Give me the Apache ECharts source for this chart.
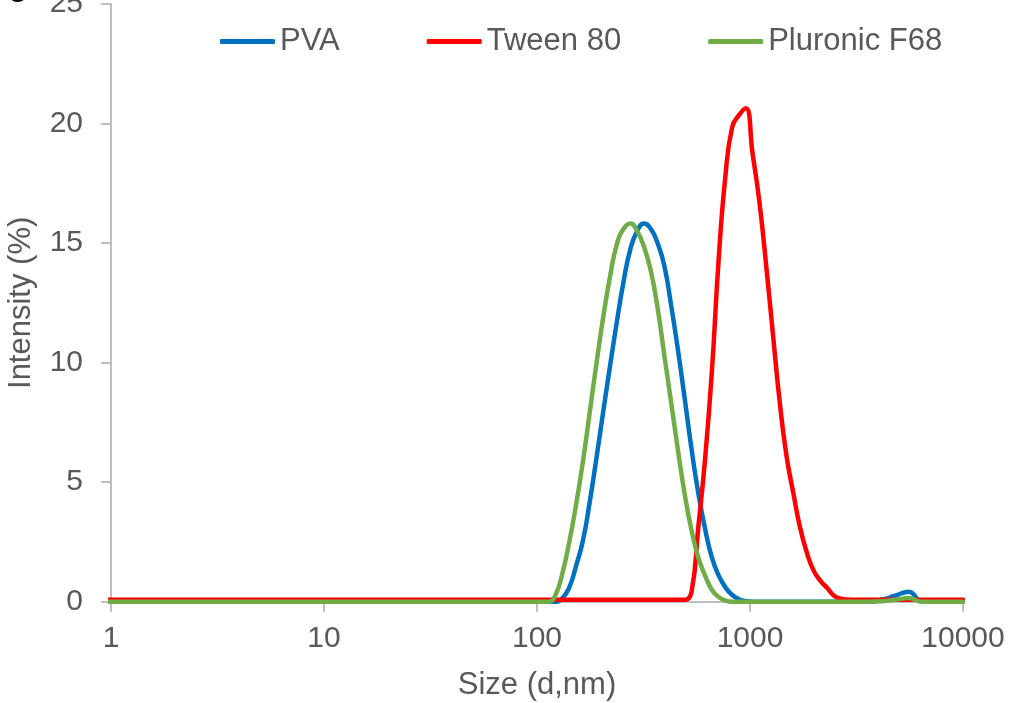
<!DOCTYPE html>
<html>
<head>
<meta charset="utf-8">
<script src="https://cdn.jsdelivr.net/npm/echarts@6/dist/echarts.min.js"></script>
<style>
html,body{margin:0;padding:0;background:#fff;}
#chart{width:1013px;height:703px;}
</style>
</head>
<body>
<div id="chart"></div>
<script>
// Size (d, nm) sample positions
const sizes = [0.9649, 1.117, 1.294, 1.499, 1.736, 2.010, 2.328, 2.696, 3.122, 3.615, 4.187, 4.849, 5.615, 6.503, 7.531, 8.721, 10.10, 11.70, 13.54, 15.69, 18.17, 21.04, 24.36, 28.21, 32.67, 37.84, 43.82, 50.75, 58.77, 68.06, 78.82, 91.28,
  105.7, 113.7, 122.4, 131.7, 141.8, 152.6, 164.2, 176.7, 190.1, 204.6,
  220.2, 237.0, 255.0, 274.4, 295.3, 317.8, 342.0, 368.1, 396.1, 426.3,
  458.7, 493.6, 531.2, 571.6, 615.1, 662.0, 712.4, 766.6, 825.0, 887.8,
  955.4, 1028, 1106, 1190, 1281, 1379, 1484, 1597, 1718, 1849,
  1990, 2142, 2305, 2480, 2669, 2872, 3091,
  3580, 4145, 4801, 5560, 6439, 7456, 8635, 10000];

// Intensity (%) at each size
const pva = [0,0,0,0,0,0,0,0,0,0,0,0,0,0,0,0,0,0,0,0,0,0,0,0,0,0,0,0,0,0,0,0,
  0, 0, 0, 0.15, 0.6, 1.5, 2.55, 4.15, 6.0, 7.95,
  9.85, 11.7, 13.4, 14.75, 15.5, 15.82, 15.6, 15.0, 14.05, 12.4,
  10.55, 8.5, 6.4, 4.55, 3.05, 1.85, 1.1, 0.6, 0.28, 0.1,
  0.03, 0, 0, 0, 0, 0, 0, 0, 0, 0,
  0, 0, 0, 0, 0, 0, 0,
  0, 0.08, 0.25, 0.42, 0, 0, 0, 0];

const tween80 = [0.08,0.08,0.08,0.08,0.08,0.08,0.08,0.08,0.08,0.08,0.08,0.08,0.08,0.08,0.08,0.08,0.08,0.08,0.08,0.08,0.08,0.08,0.08,0.08,0.08,0.08,0.08,0.08,0.08,0.08,0.08,0.08,
  0.08, 0.08, 0.08, 0.08, 0.08, 0.08, 0.08, 0.08, 0.08, 0.08,
  0.08, 0.08, 0.08, 0.08, 0.08, 0.08, 0.08, 0.08, 0.08, 0.08,
  0.08, 0.08, 0.4, 3.1, 5.95, 9.6, 14.3, 17.8, 19.85, 20.35,
  20.64, 18.75, 16.75, 14.1, 11.2, 8.35, 6.1, 4.55, 3.1, 2.05,
  1.3, 0.87, 0.57, 0.25, 0.13, 0.09, 0.08,
  0.08, 0.08, 0.08, 0.08, 0.08, 0.08, 0.08, 0.08];

const pluronicF68 = [0,0,0,0,0,0,0,0,0,0,0,0,0,0,0,0,0,0,0,0,0,0,0,0,0,0,0,0,0,0,0,0,
  0, 0, 0.3, 1.2, 2.5, 4.05, 5.85, 7.9, 9.95, 11.9,
  13.6, 14.95, 15.6, 15.82, 15.5, 14.85, 13.85, 12.3, 10.3, 8.35,
  6.35, 4.5, 3.0, 1.85, 1.1, 0.5, 0.2, 0.05, 0, 0,
  0, 0, 0, 0, 0, 0, 0, 0, 0, 0,
  0, 0, 0, 0, 0, 0, 0,
  0, 0.02, 0.08, 0.15, 0, 0, 0, 0];

const seriesNames = ['PVA', 'Tween 80', 'Pluronic F68'];
const seriesColors = ['#0070C0', '#FF0000', '#70AD47'];
const seriesValues = [pva, tween80, pluronicF68];

const yTicks = [0, 5, 10, 15, 20, 25];

const FONT = '"Liberation Sans", Arial, Helvetica, sans-serif';
const TXT = '#595959';
const AX = '#BFBFBF';

const chart = echarts.init(document.getElementById('chart'), null, {renderer: 'canvas'});

chart.setOption({
  animation: false,
  backgroundColor: '#ffffff',
  textStyle: {fontFamily: FONT},
  graphic: [{
    type: 'text', left: 9, top: -27,
    style: {text: 'g', font: 'bold 30px ' + FONT, fill: '#000'}
  }],
  legend: {
    data: seriesNames,
    left: 220, top: 26, padding: 0,
    icon: 'roundRect',
    itemWidth: 55, itemHeight: 5, itemGap: 87,
    textStyle: {fontSize: 31, color: TXT, fontFamily: FONT}
  },
  grid: {left: 111, right: 50, top: 4, bottom: 101.3, containLabel: false, outerBoundsMode: 'none'},
  xAxis: {
    type: 'log', logBase: 10, min: 1, max: 10000,
    name: 'Size (d,nm)', nameLocation: 'middle', nameGap: 68,
    nameTextStyle: {fontSize: 31, color: TXT, fontFamily: FONT},
    axisLine: {show: true, lineStyle: {color: AX, width: 2}},
    axisTick: {show: true, length: 10, inside: false, lineStyle: {color: AX, width: 2}},
    axisLabel: {fontSize: 30, color: TXT, margin: 22, fontFamily: FONT, formatter: v => String(Math.round(v))},
    splitLine: {show: false},
    minorTick: {show: false}
  },
  yAxis: {
    type: 'value', min: yTicks[0], max: yTicks[yTicks.length - 1], interval: 5,
    name: 'Intensity (%)', nameLocation: 'middle', nameGap: 74, nameRotate: 90,
    nameTextStyle: {fontSize: 31, color: TXT, fontFamily: FONT},
    axisLine: {show: true, lineStyle: {color: AX, width: 2}},
    axisTick: {show: true, length: 10, inside: false, lineStyle: {color: AX, width: 2}},
    axisLabel: {fontSize: 30, color: TXT, margin: 28, fontFamily: FONT},
    splitLine: {show: false}
  },
  series: seriesNames.map((name, k) => ({
    name: name,
    type: 'line',
    data: sizes.map((s, i) => [s, seriesValues[k][i]]),
    showSymbol: false,
    symbol: 'none',
    smooth: 0.5,
    clip: true,
    color: seriesColors[k],
    lineStyle: {width: 4.5, color: seriesColors[k], cap: 'round', join: 'round'}
  }))
});
</script>
</body>
</html>
